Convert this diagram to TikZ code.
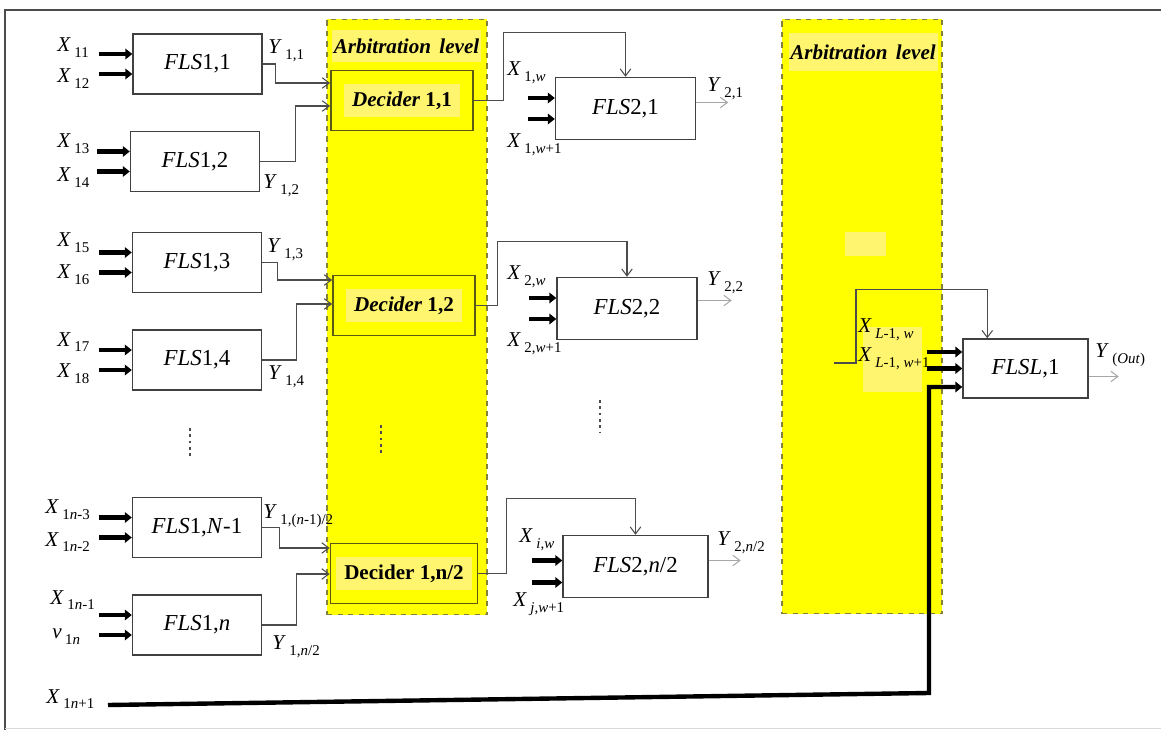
\documentclass[tikz,border=0pt]{standalone}
\usepackage{fontspec}
\setmainfont{Liberation Serif}
\usepackage{tikz}
\usetikzlibrary{arrows.meta, calc}

\definecolor{arbyel}{RGB}{255,255,0}
\definecolor{paleyel}{RGB}{255,245,110}
\definecolor{arbedge}{RGB}{130,130,60}
\definecolor{decedge}{RGB}{90,90,20}
\setlength{\fboxsep}{4.5pt}

% variable with spaced subscript
\newcommand{\vx}[2]{\textit{#1}\kern2pt\raisebox{-0.6ex}{\fontsize{8.5}{9}\selectfont #2}}

\begin{document}
\begin{tikzpicture}[
  x=0.02cm, y=-0.02cm,
  every node/.style={font=\fontsize{12}{14}\selectfont},
  fls/.style={
    rectangle, draw=black!75, line width=0.8pt, fill=white,
    minimum width=2.58cm, minimum height=1.2cm,
    font=\fontsize{13}{15}\selectfont
  },
  flsb/.style={fls, minimum width=2.8cm, minimum height=1.24cm},
  dec/.style={
    rectangle, draw=decedge, line width=1pt, fill=arbyel,
    minimum width=2.84cm, minimum height=1.2cm,
    font=\bfseries\fontsize{12}{14}\selectfont
  },
  arb/.style={rectangle, draw=arbedge, dashed, line width=0.6pt, fill=arbyel, minimum width=3.2cm},
  arbtxt/.style={fill=paleyel, font=\bfseries\itshape\fontsize{12}{14}\selectfont,
    inner xsep=1pt, inner ysep=0pt},
  lbl/.style={anchor=west, inner sep=0pt},
  arr/.style={-{Straight Barb[length=4pt,width=6pt]}, draw=black!70, line width=0.6pt},
  outarr/.style={arr, draw=black!35},
  inarr/.style={-{Triangle[length=4pt,width=6pt]}, line width=2.5pt},
  dotline/.style={dotted, line width=1.6pt, black!70}
]
\useasboundingbox (0,0) rectangle (1161,730);

% frame
\draw[black!70, line width=1pt] (5,730) -- (5,10) -- (1161,10);
\draw[black!15] (5,728) -- (1161,728);

% arbitration levels
\node[arb, minimum height=11.92cm] (arb1) at (407,317) {};
\node[arb, minimum height=11.9cm]  (arb2) at (862,316.5) {};
\node[arbtxt, minimum height=0.64cm] (arbt1) at (406.5,46) {Arbitration\hspace{0.4em}level};
\node[arbtxt, minimum height=0.76cm, minimum width=2.76cm] (arbt2) at (863,52) {Arbitration\hspace{0.4em}level};
\fill[paleyel] (845,232) rectangle (886,256);
\fill[paleyel] (863,327) rectangle (922,392);

% first layer
\node[fls] (f11) at (197.5,64)  {\textit{FLS}1,1};
\node[fls] (f12) at (195,161.5) {\textit{FLS}1,2};
\node[fls] (f13) at (197,262.5) {\textit{FLS}1,3};
\node[fls] (f14) at (197,360)   {\textit{FLS}1,4};
\node[fls] (f15) at (197,527.5) {\textit{FLS}1,\textit{N}-1};
\node[fls] (f16) at (197,625)   {\textit{FLS}1,\textit{n}};

% deciders
\node[dec] (d11) at (402,100.5) {\colorbox{paleyel}{\textit{Decider} 1,1}};
\node[dec] (d12) at (404,305.5) {\colorbox{paleyel}{\textit{Decider} 1,2}};
\node[dec] (d13) at (404,573.5) {\colorbox{paleyel}{Decider 1,n/2}};

% second layer
\node[flsb] (f21) at (625.5,108.5) {\textit{FLS}2,1};
\node[flsb] (f22) at (627,308.5)   {\textit{FLS}2,2};
\node[flsb, minimum width=2.9cm] (f23) at (635.5,566.5) {\textit{FLS}2,\textit{n}/2};

% last layer
\node[fls, minimum width=2.5cm, minimum height=1.18cm] (fl) at (1025.5,368.5) {\textit{FLSL},1};

% input labels, first layer
\node[lbl] (x11) at (57,47.5)  {\vx{X}{11}};
\node[lbl] (x12) at (57,78.5)  {\vx{X}{12}};
\node[lbl] (x13) at (57,144)   {\vx{X}{13}};
\node[lbl] (x14) at (57,177.5) {\vx{X}{14}};
\node[lbl] (x15) at (57,243)   {\vx{X}{15}};
\node[lbl] (x16) at (57,275)   {\vx{X}{16}};
\node[lbl] (x17) at (57,342)   {\vx{X}{17}};
\node[lbl] (x18) at (57,374)   {\vx{X}{18}};
\node[lbl] (x1a) at (45,510)   {\vx{X}{1\textit{n}-3}};
\node[lbl] (x1b) at (45,542)   {\vx{X}{1\textit{n}-2}};
\node[lbl] (x1c) at (50,600)   {\vx{X}{1\textit{n}-1}};
\node[lbl] (v1n) at (52,637)   {\vx{v}{1\textit{n}}};
\node[lbl] (x1d) at (46,699)   {\vx{X}{1\textit{n}+1}};

% output labels, first layer
\node[lbl] (y11) at (268,51)  {\vx{Y}{1,1}};
\node[lbl] (y12) at (263,186) {\vx{Y}{1,2}};
\node[lbl] (y13) at (267,250) {\vx{Y}{1,3}};
\node[lbl] (y14) at (268,377) {\vx{Y}{1,4}};
\node[lbl] (y15) at (263,516) {\vx{Y}{1,(\textit{n}-1)/2}};
\node[lbl] (y16) at (272,647) {\vx{Y}{1,\textit{n}/2}};

% labels, second and last layer
\node[lbl] (x2a) at (507,73)  {\vx{X}{1,\textit{w}}};
\node[lbl] (x2b) at (507,145) {\vx{X}{1,\textit{w}+1}};
\node[lbl] (x2c) at (507,277) {\vx{X}{2,\textit{w}}};
\node[lbl] (x2d) at (507,344) {\vx{X}{2,\textit{w}+1}};
\node[lbl] (x2e) at (519,540) {\vx{X}{\textit{i},\textit{w}}};
\node[lbl] (x2f) at (513,604) {\vx{X}{\textit{j},\textit{w}+1}};
\node[lbl] (xla) at (858,330) {\vx{X}{\textit{L}-1, \textit{w}}};
\node[lbl] (xlb) at (858,359) {\vx{X}{\textit{L}-1, \textit{w}+1}};
\node[lbl] (y21) at (707,89)  {\vx{Y}{2,1}};
\node[lbl] (y22) at (707,283) {\vx{Y}{2,2}};
\node[lbl] (y23) at (717,543) {\vx{Y}{2,\textit{n}/2}};
\node[lbl] (yout) at (1095,355) {\vx{Y}{(\textit{Out})}};

% thick inputs
\foreach \b in {f11,f12,f13,f14,f15,f16}
  \foreach \dy in {-10,10}
    \draw[inarr] ([shift={(-33,\dy)}]\b.west) -- ([shift={(0,\dy)}]\b.west);
\foreach \b in {f21,f22}
  \foreach \dy in {-10.5,10.5}
    \draw[inarr] ([shift={(-27,\dy)}]\b.west) -- ([shift={(0,\dy)}]\b.west);
\foreach \dy in {-6,16}
  \draw[inarr] ([shift={(-30,\dy)}]f23.west) -- ([shift={(0,\dy)}]f23.west);
\foreach \dy in {-16.5,0}
  \draw[inarr] ([shift={(-35,\dy)}]fl.west) -- ([shift={(0,\dy)}]fl.west);

% first layer -> deciders
\draw[arr] (f11.east) -- ++(13,0) |- ($(d11.west)+(0,-17.5)$);
\draw[arr] (f12.east) -- ++(35,0) |- ($(d11.west)+(0,5.5)$);
\draw[arr] (f13.east) -- ++(15,0) |- ($(d12.west)+(0,-25.5)$);
\draw[arr] (f14.east) -- ++(34,0) |- ($(d12.west)+(0,-1.5)$);
\draw[arr] (f15.east) -- ++(17,0) |- ($(d13.west)+(0,-25.5)$);
\draw[arr] (f16.east) -- ++(34,0) |- ($(d13.west)+(0,0.5)$);

% deciders -> second layer
\draw[arr] (d11.east) -- ++(30,0) |- ($(f21.north)+(0,-44)$) -- (f21.north);
\draw[arr] (d12.east) -- ++(22,0) |- ($(f22.north)+(0,-35.5)$) -- (f22.north);
\draw[arr] (d13.east) -- ++(28,0) |- ($(f23.north)+(0,-36.5)$) -- (f23.north);

% outputs
\draw[outarr] ([shift={(0,-6)}]f21.east) -- ++(32,0);
\draw[outarr] ([shift={(0,-8)}]f22.east) -- ++(34,0);
\draw[outarr] ([shift={(0,-6)}]f23.east) -- ++(32,0);
\draw[outarr] ([shift={(0,8)}]fl.east) -- ++(30,0);

% last layer feedback and X_{1n+1}
\coordinate (lstub) at (834,363);
\draw[arr] (lstub) -- ++(22,0) |- ($(fl.north west)+(25,-49)$) -- ($(fl.north west)+(25,0)$);
\coordinate (xin) at (108,705);
\coordinate (xbend) at (929,693);
\draw[inarr] (xin) -- (xbend) |- ([shift={(0,18.5)}]fl.west);

% dots
\draw[dotline] (190,428) -- (190,458);
\draw[dotline] (381,425) -- (381,455);
\draw[dotline] (600,400) -- (600,432);

\end{tikzpicture}
\end{document}
